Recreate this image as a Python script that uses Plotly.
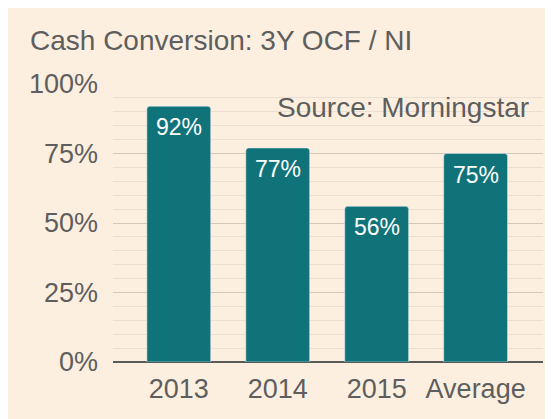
import plotly.graph_objects as go

categories = ['2013', '2014', '2015', 'Average']
values = [92, 77, 56, 75]
title_text = 'Cash Conversion: 3Y OCF / NI'
source_text = 'Source: Morningstar'

bg = '#FCEFDF'
bar_color = '#10737A'
grey = '#5E5E5E'
# page adds an ~8px body margin, so the figure is sized to fit the window
W, H = 545, 411
ml, mr, mt, mb = 105, 10, 76, 57
pw, ph = W - ml - mr, H - mt - mb

fig = go.Figure()
fig.add_trace(go.Bar(
    x=categories, y=values,
    marker=dict(color=bar_color, cornerradius=3),
    width=0.645,
    hoverinfo='skip',
))

# value labels sit a little below the top of each bar
for i, v in enumerate(values):
    fig.add_annotation(x=i, y=v, text=f'{v}%', showarrow=False,
                       yanchor='middle', yshift=-21,
                       font=dict(color='white', size=23))

fig.add_annotation(text=title_text, xref='paper', yref='paper',
                   x=-(ml - 20) / pw, y=1 + (mt - 32) / ph,
                   xanchor='left', yanchor='middle', showarrow=False,
                   font=dict(size=28, color=grey))
fig.add_annotation(text=source_text, xref='paper', yref='paper',
                   x=(523 - ml) / pw, y=1 - (99 - mt) / ph,
                   xanchor='right', yanchor='middle', showarrow=False,
                   font=dict(size=28, color=grey))

fig.update_layout(
    width=W, height=H,
    margin=dict(l=ml, r=mr, t=mt, b=mb),
    paper_bgcolor=bg, plot_bgcolor=bg,
    font=dict(family='Liberation Sans, Arial, sans-serif', color=grey),
    showlegend=False,
)
fig.update_xaxes(type='category', range=[-0.665, 3.681], showgrid=False,
                 showline=False, tickfont=dict(size=27, color=grey), ticks='',
                 ticklabelstandoff=8)
fig.update_yaxes(range=[0, 100], dtick=25, ticksuffix='%',
                 tickfont=dict(size=27, color=grey),
                 gridcolor='#D3C8BA', gridwidth=1,
                 minor=dict(dtick=5, showgrid=True, gridcolor='#EADFD1', gridwidth=1),
                 zeroline=True, zerolinecolor='#5A5A5A', zerolinewidth=2,
                 ticklabelstandoff=14)

fig.write_html('out.html')
